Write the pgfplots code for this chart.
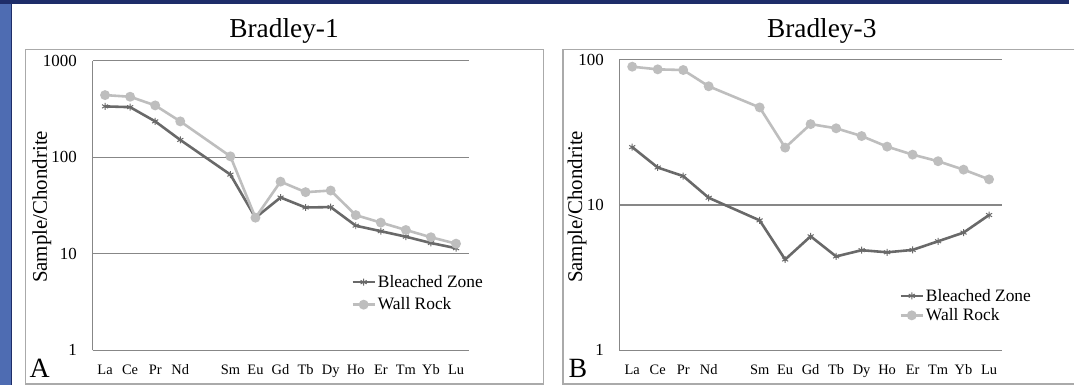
\documentclass[border=0pt]{standalone}
\usepackage{fontspec}
\setmainfont{Liberation Serif}
\usepackage{pgfplots}
\usepackage{pgfplotstable}
\pgfplotsset{compat=1.18}

\definecolor{bleach}{RGB}{105,105,105}
\definecolor{wall}{RGB}{190,190,190}
\definecolor{slideblue}{RGB}{78,108,178}
\definecolor{navy}{RGB}{30,45,105}
\definecolor{framegray}{RGB}{170,170,170}
\definecolor{gridgray}{RGB}{135,135,135}

% x: 0 La,1 Ce,2 Pr,3 Nd,(4 Pm),5 Sm,6 Eu,7 Gd,8 Tb,9 Dy,10 Ho,11 Er,12 Tm,13 Yb,14 Lu
\pgfplotstableread{
x bleached wall
0 336 440
1 330 423
2 235 344
3 151 235
5 66 102
6 23.6 23.6
7 38.2 55.8
8 30.1 43.4
9 30.4 45.1
10 19.5 25.1
11 17.1 21.0
12 15.0 17.6
13 12.9 14.8
14 11.4 12.7
}\bradleyone

\pgfplotstableread{
x bleached wall
0 25.0 89.5
1 18.1 85.8
2 15.8 84.9
3 11.2 65.6
5 7.83 46.9
6 4.21 24.8
7 6.08 36.0
8 4.42 33.7
9 4.88 29.8
10 4.72 25.2
11 4.90 22.2
12 5.62 20.0
13 6.45 17.5
14 8.52 15.0
}\bradleythree

\pgfplotsset{
  bz/.style={color=bleach, line width=2.6pt, mark=asterisk, mark size=3.5pt,
    mark options={line width=1pt, solid}},
  wr/.style={color=wall, line width=2.6pt, mark=*, mark size=3.6pt,
    mark options={solid, fill=wall}},
}

\begin{document}
\begin{tikzpicture}
  % slide background
  \fill[white] (0pt,0pt) rectangle (1075pt,387pt);
  \fill[slideblue] (0pt,0pt) rectangle (12pt,387pt);
  \draw[navy, line width=1pt] (12pt,0pt) -- (12pt,383pt);
  \fill[navy] (0pt,383pt) rectangle (1075pt,387pt);

  % panel frames
  \draw[framegray, line width=1.2pt] (26pt,1pt) rectangle (546pt,337pt);
  \draw[framegray, line width=1.2pt] (1080pt,337pt) -- (566pt,337pt) -- (566pt,1pt) -- (1080pt,1pt);

  % titles
  \node[font=\fontsize{27.5}{30}\selectfont] at (285.5pt,356pt) {Bradley-1};
  \node[font=\fontsize{27.5}{30}\selectfont] at (826pt,356pt) {Bradley-3};

  % y labels
  \node[rotate=90, font=\fontsize{21}{24}\selectfont] at (42pt,179pt) {Sample/Chondrite};
  \node[rotate=90, font=\fontsize{21}{24}\selectfont] at (580pt,179pt) {Sample/Chondrite};

  % panel letters
  \node[font=\fontsize{28}{30}\selectfont] at (40pt,17pt) {A};
  \node[font=\fontsize{28}{30}\selectfont] at (581pt,17pt) {B};

  \begin{axis}[
    ymode=log,
    scale only axis,
    at={(93pt,35pt)}, anchor=south west,
    width=378pt, height=291pt,
    ymin=1, ymax=1000,
    xmin=-0.5, xmax=14.5,
    axis x line*=bottom,
    axis y line*=left,
    axis line style={draw=gridgray, line width=1.2pt},
    xtick={0,1,2,3,4,5,6,7,8,9,10,11,12,13,14},
    xticklabels={La,Ce,Pr,Nd,,Sm,Eu,Gd,Tb,Dy,Ho,Er,Tm,Yb,Lu},
    xtick style={draw=none},
    minor xtick={-0.5,0.5,1.5,2.5,3.5,4.5,5.5,6.5,7.5,8.5,9.5,10.5,11.5,12.5,13.5,14.5},
    minor tick length=4pt,
    tick align=outside,
    minor tick style={draw=gridgray, line width=1pt},
    ytick={1,10,100,1000}, yticklabels={1,10,100,1000},
    ytick style={draw=none},
    ymajorgrids,
    major grid style={draw=gridgray, line width=1.2pt},
    xticklabel style={font=\fontsize{14.5}{16}\selectfont, yshift=-7pt},
    yticklabel style={font=\fontsize{17}{19}\selectfont, xshift=-8pt},
    legend cell align=left,
    legend style={draw=none, fill=none, font=\fontsize{17.5}{19}\selectfont,
      inner sep=0pt, row sep=5pt, at={(0.688,0.266)}, anchor=north west},
    legend image code/.code={\draw[mark repeat=2,mark phase=2] plot coordinates {(0pt,0pt)(11pt,0pt)(22pt,0pt)};},
    clip=false,
  ]
    \addplot[bz] table[x=x, y=bleached] {\bradleyone};
    \addlegendentry{Bleached Zone}
    \addplot[wr] table[x=x, y=wall] {\bradleyone};
    \addlegendentry{Wall Rock}
  \end{axis}

  \begin{axis}[
    ymode=log,
    scale only axis,
    at={(622.7pt,35pt)}, anchor=south west,
    width=384.3pt, height=292pt,
    ymin=1, ymax=100,
    xmin=-0.5, xmax=14.5,
    axis x line*=bottom,
    axis y line*=left,
    axis line style={draw=gridgray, line width=1.2pt},
    xtick={0,1,2,3,4,5,6,7,8,9,10,11,12,13,14},
    xticklabels={La,Ce,Pr,Nd,,Sm,Eu,Gd,Tb,Dy,Ho,Er,Tm,Yb,Lu},
    xtick style={draw=none},
    minor xtick={-0.5,0.5,1.5,2.5,3.5,4.5,5.5,6.5,7.5,8.5,9.5,10.5,11.5,12.5,13.5,14.5},
    minor tick length=4pt,
    tick align=outside,
    minor tick style={draw=gridgray, line width=1pt},
    ytick={1,10,100}, yticklabels={1,10,100},
    ytick style={draw=none},
    ymajorgrids,
    major grid style={draw=gridgray, line width=1.2pt},
    xticklabel style={font=\fontsize{14.5}{16}\selectfont, yshift=-7pt},
    yticklabel style={font=\fontsize{17}{19}\selectfont, xshift=-8pt},
    legend cell align=left,
    legend style={draw=none, fill=none, font=\fontsize{17.5}{19}\selectfont,
      inner sep=0pt, row sep=2pt, at={(0.732,0.218)}, anchor=north west},
    legend image code/.code={\draw[mark repeat=2,mark phase=2] plot coordinates {(0pt,0pt)(11pt,0pt)(22pt,0pt)};},
    clip=false,
  ]
    \addplot[bz] table[x=x, y=bleached] {\bradleythree};
    \addlegendentry{Bleached Zone}
    \addplot[wr] table[x=x, y=wall] {\bradleythree};
    \addlegendentry{Wall Rock}
  \end{axis}

  \path[use as bounding box] (0pt,0pt) rectangle (1075pt,387pt);
\end{tikzpicture}
\end{document}
